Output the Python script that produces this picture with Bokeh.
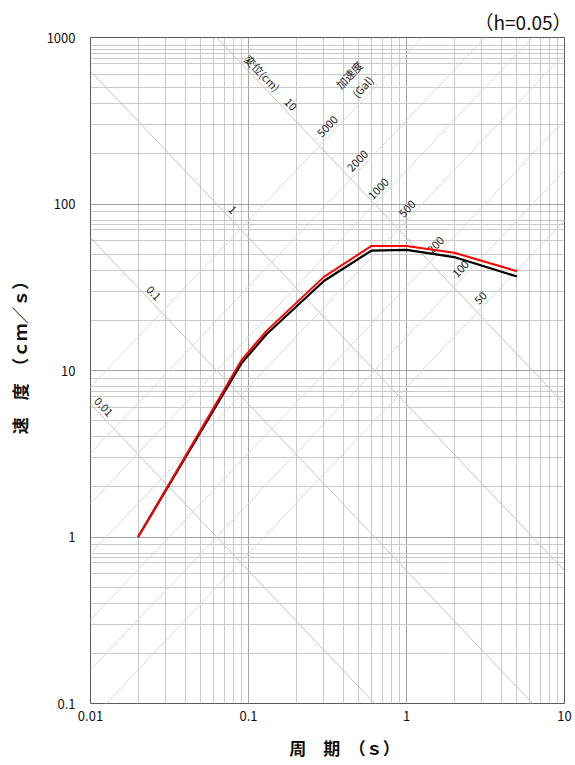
import math
from bokeh.plotting import figure
from bokeh.models import FixedTicker, CustomJSTickFormatter
from bokeh.embed import file_html
from bokeh.resources import INLINE
from bokeh.core.properties import value

# ---- data ----
period = [0.02, 0.09, 0.13, 0.30, 0.60, 1.0, 2.0, 5.0]
vel_black = [1.0, 11.0, 16.5, 34.5, 52.5, 53.0, 48.0, 36.7]
vel_red = [1.0, 11.5, 17.3, 36.5, 56.0, 56.0, 51.0, 39.5]

disp_values = [0.01, 0.1, 1, 10]            # displacement lines (cm)
disp_labels = ["0.01", "0.1", "1", "10"]
disp_label_T = [0.0121, 0.0251, 0.0792, 0.1845]

acc_values = [50, 100, 200, 500, 1000, 2000, 5000]   # acceleration lines (Gal)
acc_labels = ["50", "100", "200", "500", "1000", "2000", "5000"]
acc_label_T = [2.94, 2.2, 1.53, 1.01, 0.665, 0.49, 0.316]

x_major = [0.01, 0.1, 1, 10]
y_major = [0.1, 1, 10, 100, 1000]
mantissas = [2, 3, 4, 5, 6, 7, 7.5, 8, 9]

FONT = "Noto Sans CJK JP"
TWO_PI = 2 * math.pi

x_minor = [m * d for d in x_major[:-1] for m in [2, 3, 4, 5, 6, 7, 8, 9]]
y_minor = [m * d for d in y_major[:-1] for m in mantissas] + [850]

p = figure(width=575, height=765, x_axis_type="log", y_axis_type="log",
           x_range=(0.01, 10), y_range=(0.1, 1000),
           output_backend="svg", toolbar_location=None,
           min_border_left=90, min_border_right=11,
           min_border_top=37, min_border_bottom=62)

p.title.text = "（h=0.05）"
p.title.align = "right"
p.title.offset = -7
p.title.standoff = 6
p.title.text_font = FONT
p.title.text_font_size = "19px"
p.title.text_font_style = "normal"
p.title.text_color = "#111111"

p.outline_line_color = "#5a5a5a"
p.outline_line_width = 1
p.background_fill_color = "white"
p.border_fill_color = "white"

xt = FixedTicker(ticks=x_major, minor_ticks=x_minor)
yt = FixedTicker(ticks=y_major, minor_ticks=y_minor)
p.xaxis.ticker = xt
p.yaxis.ticker = yt
p.xgrid.ticker = xt
p.ygrid.ticker = yt

fmt = CustomJSTickFormatter(code="return String(tick)")
for ax in (p.xaxis[0], p.yaxis[0]):
    ax.formatter = fmt
    ax.major_tick_line_color = None
    ax.minor_tick_line_color = None
    ax.major_tick_out = 0
    ax.major_tick_in = 0
    ax.minor_tick_out = 0
    ax.minor_tick_in = 0
    ax.axis_line_color = None
    ax.major_label_text_font = FONT
    ax.major_label_text_font_size = "13px"
    ax.major_label_text_color = "#111111"
    ax.axis_label_text_font = FONT
    ax.axis_label_text_font_size = "17px"
    ax.axis_label_text_font_style = "bold"
    ax.axis_label_text_color = "#111111"

p.xaxis.major_label_standoff = 7
p.yaxis.major_label_standoff = 15
p.xaxis.axis_label = "　　周　期　（ｓ）"
p.yaxis.axis_label = "　　速　度　（ｃｍ／ｓ）"
p.xaxis.axis_label_standoff = 11
p.yaxis.axis_label_standoff = 12

for g in (p.xgrid[0], p.ygrid[0]):
    g.grid_line_color = "#a3a3a3"
    g.grid_line_width = 1
    g.minor_grid_line_color = "#c9c9c9"
    g.minor_grid_line_width = 1

# ---- diagonal lines ----
T_ends = [0.001, 100.0]
disp_xs = [T_ends for _ in disp_values]
disp_ys = [[TWO_PI * d / t for t in T_ends] for d in disp_values]
p.multi_line(disp_xs, disp_ys, line_color="#c4c4c4", line_width=1)

acc_xs = [T_ends for _ in acc_values]
acc_ys = [[a * t / TWO_PI for t in T_ends] for a in acc_values]
p.multi_line(acc_xs, acc_ys, line_color="#d9d9d9", line_width=1)

# ---- diagonal labels ----
shift = 10 ** (11 / 166.5)
disp_label_V = [TWO_PI * d / t * shift for d, t in zip(disp_values, disp_label_T)]
p.text(x=disp_label_T, y=disp_label_V, text=disp_labels, angle=-0.81,
       text_align="center", text_baseline="middle",
       text_font=value(FONT), text_font_size="11px", text_color="#222222")

acc_label_V = [a * t / TWO_PI * shift for a, t in zip(acc_values, acc_label_T)]
p.text(x=acc_label_T, y=acc_label_V, text=acc_labels, angle=0.81,
       text_align="center", text_baseline="middle",
       text_font=value(FONT), text_font_size="11px", text_color="#222222")

# headers of the diagonal scales
head_T = [0.1227]
head_V = [TWO_PI * 10 / 0.1227 * 10 ** (13 / 166.5)]
p.text(x=head_T, y=head_V, text=["変位(cm)"], angle=-0.81,
       text_align="center", text_baseline="middle",
       text_font=value(FONT), text_font_size="11px", text_color="#222222")
p.text(x=[0.432, 0.527], y=[598, 508], text=["加速度", "(Gal)"], angle=0.81,
       text_align="center", text_baseline="middle",
       text_font=value(FONT), text_font_size="11px", text_color="#222222")

# ---- spectra ----
p.line(period, vel_black, line_color="black", line_width=2.2)
p.line(period, vel_red, line_color="red", line_width=2)

open("out.html", "w").write(file_html(p, INLINE))
